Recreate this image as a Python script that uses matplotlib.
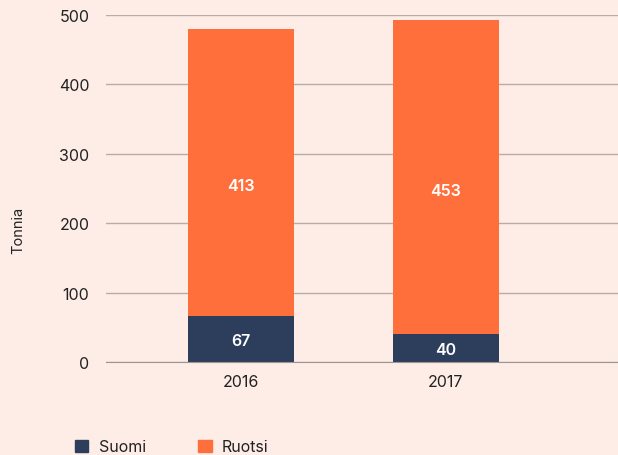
import numpy as np
import matplotlib.pyplot as plt
from matplotlib.patches import Patch

plt.rcParams['font.family'] = ['Inter', 'DejaVu Sans']

years = ["2016", "2017"]
suomi = [67, 40]
ruotsi = [413, 453]

bg = "#fdede6"
navy = "#2c3e5c"
orange = "#ff6f3c"
txt = "#222222"

fig = plt.figure(figsize=(6.18, 4.56), dpi=100, facecolor=bg)
ax = fig.add_axes([106/618, 1 - 363/456, 1 - 106/618, 347/456])
ax.set_facecolor(bg)

x = np.arange(len(years))
w = 0.52
ax.bar(x, suomi, w, color=navy, label="Suomi", zorder=3)
ax.bar(x, ruotsi, w, bottom=suomi, color=orange, label="Ruotsi", zorder=3)

# value labels inside the segments
for i in range(len(years)):
    ax.annotate(str(suomi[i]), (x[i], suomi[i] / 2), xytext=(0, -1), textcoords="offset points",
                ha="center", va="center", color="white", fontsize=11.5, fontweight="semibold", zorder=4)
    ax.annotate(str(ruotsi[i]), (x[i], suomi[i] + ruotsi[i] / 2), xytext=(0, -9.5),
                textcoords="offset points", ha="center", va="center", color="white",
                fontsize=11.5, fontweight="semibold", zorder=4)

ax.set_xlim(-0.659, 1.84)
ax.set_ylim(0, 500)
ax.set_yticks([0, 100, 200, 300, 400, 500])
ax.set_xticks(x)
ax.set_xticklabels(years)
ax.tick_params(axis="both", length=0, labelsize=11.5, colors=txt)
ax.tick_params(axis="y", pad=12)
ax.tick_params(axis="x", pad=9)
ax.grid(axis="y", color="#b9aca8", linewidth=1, zorder=0)
for s in ["top", "right", "left"]:
    ax.spines[s].set_visible(False)
ax.spines["bottom"].set_color("#9e9593")
ax.spines["bottom"].set_zorder(5)

fig.text(18/618, 1 - 230/456, "Tonnia", rotation=90, ha="center", va="center",
         fontsize=10.5, color=txt)

handles = [Patch(color=navy, label="Suomi"), Patch(color=orange, label="Ruotsi")]
fig.legend(handles=handles, loc="center left", bbox_to_anchor=(61/618, 1 - 448/456), ncol=2,
           frameon=False, fontsize=11.5, handlelength=0.82, handleheight=0.82,
           handletextpad=0.63, columnspacing=3.3, labelcolor=txt)

fig.savefig("out.png", dpi=100, facecolor=bg)
